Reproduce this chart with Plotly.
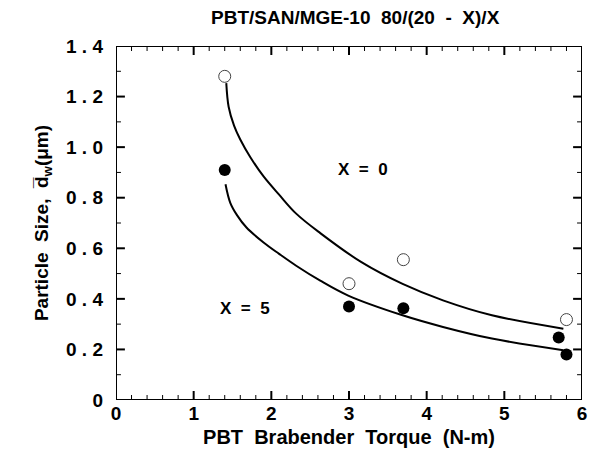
import plotly.graph_objects as go

# measured points
x0_pts = [1.40, 3.00, 3.70, 5.80]
y0_pts = [1.28, 0.46, 0.555, 0.318]
x5_pts = [1.40, 3.00, 3.70, 5.70, 5.80]
y5_pts = [0.91, 0.37, 0.363, 0.247, 0.18]

# fitted curves
x0_curve = [1.42, 1.45, 1.52, 1.60, 1.73, 1.90, 2.10, 2.32, 2.63, 3.16, 3.69, 4.21, 4.84, 5.76]
y0_curve = [1.253, 1.160, 1.085, 1.030, 0.960, 0.884, 0.812, 0.737, 0.660, 0.545, 0.459, 0.394, 0.335, 0.282]
x5_curve = [1.41, 1.47, 1.56, 1.68, 1.90, 2.10, 2.32, 2.63, 2.99, 3.69, 4.21, 4.84, 5.76]
y5_curve = [0.853, 0.781, 0.730, 0.682, 0.623, 0.578, 0.531, 0.472, 0.413, 0.335, 0.289, 0.243, 0.197]

xticks = [0, 1, 2, 3, 4, 5, 6]
xtick_labels = ["0", "1", "2", "3", "4", "5", "6"]
yticks = [0, 0.2, 0.4, 0.6, 0.8, 1.0, 1.2, 1.4]
ytick_labels = ["0", "0 . 2", "0 . 4", "0 . 6", "0 . 8", "1 . 0", "1 . 2", "1 . 4"]
x_minor_step = 0.2
y_minor_step = 0.1

XR = [0, 6]
YR = [0, 1.4]

W, H = 595, 463
M = dict(l=116, r=8, t=46, b=63)
plot_w = W - M["l"] - M["r"]
plot_h = H - M["t"] - M["b"]
# tick lengths in pixels converted to axis units
xlen = lambda px: px / plot_w * (XR[1] - XR[0])
ylen = lambda px: px / plot_h * (YR[1] - YR[0])

fig = go.Figure()
fig.add_trace(go.Scatter(x=x0_curve, y=y0_curve, mode="lines", line=dict(color="black", width=2, shape="spline")))
fig.add_trace(go.Scatter(x=x5_curve, y=y5_curve, mode="lines", line=dict(color="black", width=2, shape="spline")))
fig.add_trace(go.Scatter(x=x0_pts, y=y0_pts, mode="markers",
                         marker=dict(symbol="circle-open", size=12, color="#444", line=dict(width=1))))
fig.add_trace(go.Scatter(x=x5_pts, y=y5_pts, mode="markers",
                         marker=dict(symbol="circle", size=12, color="black")))

# tick marks (major and minor, all four sides) built from the tick arrays
maj_x, maj_y, min_x, min_y = [], [], [], []
n_x = int(round((XR[1] - XR[0]) / x_minor_step))
for i in range(1, n_x):
    v = round(XR[0] + i * x_minor_step, 6)
    major = any(abs(v - t) < 1e-9 for t in xticks)
    L = ylen(9 if major else 5)
    tx, ty = (maj_x, maj_y) if major else (min_x, min_y)
    tx += [v, v, None, v, v, None]
    ty += [YR[0], YR[0] + L, None, YR[1], YR[1] - L, None]
n_y = int(round((YR[1] - YR[0]) / y_minor_step))
for i in range(1, n_y):
    v = round(YR[0] + i * y_minor_step, 6)
    major = any(abs(v - t) < 1e-9 for t in yticks)
    L = xlen(9 if major else 5)
    tx, ty = (maj_x, maj_y) if major else (min_x, min_y)
    tx += [XR[0], XR[0] + L, None, XR[1], XR[1] - L, None]
    ty += [v, v, None, v, v, None]
fig.add_trace(go.Scatter(x=maj_x, y=maj_y, mode="lines", line=dict(color="black", width=2), hoverinfo="skip"))
fig.add_trace(go.Scatter(x=min_x, y=min_y, mode="lines", line=dict(color="black", width=1), hoverinfo="skip"))
# frame
fig.add_trace(go.Scatter(x=[XR[0], XR[1], XR[1], XR[0], XR[0]], y=[YR[0], YR[0], YR[1], YR[1], YR[0]],
                         mode="lines", line=dict(color="black", width=2), cliponaxis=False, hoverinfo="skip"))

fig.add_annotation(x=3.18, y=0.91, text="<b>X  =  0</b>", showarrow=False, font=dict(size=17, color="black"))
fig.add_annotation(x=1.66, y=0.363, text="<b>X  =  5</b>", showarrow=False, font=dict(size=17, color="black"))

fig.update_layout(
    xaxis=dict(range=XR, tickmode="array", tickvals=xticks, ticktext=["<b>%s</b>" % t for t in xtick_labels],
               tickfont=dict(size=19, color="black"), ticks="", showline=False, showgrid=False, zeroline=False,
               title=dict(text="<b>PBT  Brabender  Torque  (N-m)</b>", font=dict(size=20, color="black"), standoff=6)),
    yaxis=dict(range=YR, tickmode="array", tickvals=yticks, ticktext=["<b>%s</b>" % t for t in ytick_labels],
               tickfont=dict(size=19, color="black"), ticks="", showline=False, showgrid=False, zeroline=False,
               ticklabelstandoff=12,
               title=dict(text="<b>Particle  Size,  d\u0305<sub>w</sub>(\u03bcm)</b>", font=dict(size=19, color="black"), standoff=12)),
    font=dict(family="Arial", color="black"),
    width=W, height=H,
    margin=M,
    plot_bgcolor="white", paper_bgcolor="white",
    showlegend=False,
    title=dict(text="<b>PBT/SAN/MGE-10  80/(20  -  X)/X</b>", x=0.597, xanchor="center", y=0.963, yanchor="middle",
               font=dict(size=19, color="black")),
)

fig.write_html("out.html", config={"displayModeBar": False},
               post_script="document.body.style.margin='0px';document.body.style.padding='0px';")
